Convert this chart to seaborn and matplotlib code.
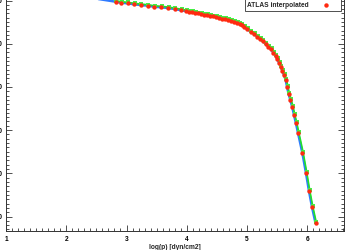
import matplotlib
matplotlib.use("Agg")
import matplotlib.pyplot as plt
from matplotlib.lines import Line2D
from matplotlib.legend_handler import HandlerLine2D
from matplotlib.ticker import MultipleLocator
import seaborn as sns
import pandas as pd

# ---- data ----
interp_logp = [2.821, 2.914, 3.020, 3.129, 3.236, 3.352, 3.461, 3.578, 3.689, 3.800,
               3.910, 3.988, 4.037, 4.087, 4.137, 4.187, 4.237, 4.286, 4.336, 4.386,
               4.436, 4.485, 4.535, 4.585, 4.635, 4.685, 4.734, 4.784, 4.834, 4.876,
               4.912, 4.955, 5.005, 5.061, 5.116, 5.171, 5.216, 5.260, 5.310, 5.353,
               5.398, 5.437, 5.476, 5.503, 5.531, 5.559, 5.586, 5.614, 5.642, 5.664,
               5.689, 5.719, 5.752, 5.780, 5.813, 5.846, 5.918, 5.979, 6.029, 6.079, 6.137]
interp_T = [4028, 4051, 4065, 4088, 4104, 4120, 4144, 4157, 4174, 4197,
            4227, 4243, 4257, 4271, 4285, 4299, 4313, 4326, 4340, 4354,
            4370, 4387, 4403, 4419, 4435, 4454, 4475, 4495, 4519, 4542,
            4567, 4620, 4667, 4722, 4775, 4838, 4891, 4944, 5007, 5069,
            5130, 5208, 5285, 5361, 5440, 5532, 5625, 5725, 5840, 5991,
            6153, 6303, 6472, 6650, 6843, 7060, 7523, 7993, 8410, 8781, 9150]

marcs_logp = [2.833, 2.926, 3.032, 3.141, 3.248, 3.364, 3.473, 3.590, 3.701, 3.812,
              3.922, 4.000, 4.049, 4.099, 4.149, 4.199, 4.249, 4.298, 4.348, 4.398,
              4.448, 4.497, 4.547, 4.597, 4.647, 4.697, 4.746, 4.796, 4.846, 4.888,
              4.924, 4.967, 5.017, 5.073, 5.128, 5.183, 5.228, 5.272, 5.322, 5.365,
              5.410, 5.449, 5.488, 5.515, 5.543, 5.571, 5.598, 5.626, 5.654, 5.676,
              5.701, 5.731, 5.764, 5.792, 5.825, 5.858, 5.930, 5.991, 6.041, 6.091, 6.149]
marcs_T = [4008, 4031, 4045, 4068, 4084, 4100, 4124, 4137, 4154, 4177,
           4207, 4223, 4237, 4251, 4265, 4279, 4293, 4306, 4320, 4334,
           4350, 4367, 4383, 4399, 4415, 4434, 4455, 4475, 4499, 4522,
           4547, 4600, 4647, 4702, 4755, 4818, 4871, 4924, 4987, 5049,
           5110, 5188, 5265, 5341, 5420, 5512, 5605, 5705, 5820, 5971,
           6133, 6283, 6452, 6630, 6823, 7040, 7503, 7973, 8390, 8761, 9130]

atlas_logp = [1.5, 2.0, 2.5] + interp_logp
atlas_T = [3750, 3854, 3958] + interp_T

x_ticks = [1, 2, 3, 4, 5, 6]
y_ticks = [4000, 5000, 6000, 7000, 8000, 9000]
x_label = "log(p) [dyn/cm2]"
legend_labels = ["ATLAS", "MARCS", "ATLAS interpolated"]

# ---- style ----
sns.set_style("ticks")
plt.rcParams["font.family"] = ["Liberation Sans", "DejaVu Sans"]
plt.rcParams["font.weight"] = "bold"

BLUE = "#2f7bff"
GREEN = "#22e02a"
GREENM = "#44ee44"
RED = "#ff2a10"
AX = "#333333"
FS = 4.8

W, H = 346, 250
fig = plt.figure(figsize=(W / 100, H / 100), dpi=100)
# axes deliberately extends beyond the canvas (left labels and top are cropped)
left_px, right_px, bottom_px, top_px = 6, 344, 231, -30
ax = fig.add_axes([left_px / W, (H - bottom_px) / H,
                   (right_px - left_px) / W, (bottom_px - top_px) / H])

df_atlas = pd.DataFrame({"logp": atlas_logp, "T": atlas_T})
df_marcs = pd.DataFrame({"logp": marcs_logp, "T": marcs_T})
df_int = pd.DataFrame({"logp": interp_logp, "T": interp_T})

sns.lineplot(data=df_atlas, x="logp", y="T", ax=ax, color=BLUE, lw=1.8,
             sort=False, estimator=None, zorder=2)
sns.lineplot(data=df_marcs, x="logp", y="T", ax=ax, color=GREEN, lw=1.2,
             sort=False, estimator=None, marker="s", markersize=2.8,
             markerfacecolor=GREENM, markeredgewidth=0, zorder=3)
sns.scatterplot(data=df_int, x="logp", y="T", ax=ax, color=RED, s=10,
                linewidth=0, zorder=4)

ax.set_xlim(1, 1 + (right_px - left_px) / 60.25)
ax.set_ylim(4000 + (bottom_px - 0.5) / 43.2 * 1000, 4000 + (top_px - 0.5) / 43.2 * 1000)

ax.set_xticks(x_ticks)
ax.set_yticks(y_ticks)
ax.xaxis.set_minor_locator(MultipleLocator(0.1))
ax.yaxis.set_minor_locator(MultipleLocator(100))
ax.tick_params(which="both", direction="in", top=True, right=True, colors=AX,
               labelsize=FS, width=0.6)
ax.tick_params(which="major", length=4.5)
ax.tick_params(which="minor", length=2.2)
ax.tick_params(axis="x", which="major", pad=3.5)
ax.tick_params(axis="y", which="major", pad=2.5)
for lab in ax.get_xticklabels() + ax.get_yticklabels():
    lab.set_color("black")
    lab.set_fontweight("bold")
for s in ax.spines.values():
    s.set_color(AX)
    s.set_linewidth(0.7)

ax.set_xlabel(x_label, fontsize=FS, fontweight="bold", labelpad=1)
ax.set_ylabel("")

h_atlas = Line2D([], [], color=BLUE, lw=1.2)
h_marcs = Line2D([], [], color=GREEN, lw=0.8, marker="s", markersize=2.6,
                 markerfacecolor=GREENM, markeredgewidth=0)
h_int = Line2D([], [], color=RED, lw=0, marker="o", markersize=3.2, markeredgewidth=0)
leg = ax.legend([h_atlas, h_marcs, h_int], legend_labels,
                handler_map={h_marcs: HandlerLine2D(numpoints=2),
                             h_int: HandlerLine2D(numpoints=1),
                             h_atlas: HandlerLine2D(numpoints=2)},
                loc="lower right", bbox_to_anchor=(341 / W, (H - 11) / H),
                bbox_transform=fig.transFigure, markerfirst=False,
                fontsize=FS, frameon=True, fancybox=False, framealpha=1,
                edgecolor=AX, borderpad=0.3, labelspacing=0.25,
                handlelength=4.0, handletextpad=0.5, borderaxespad=0)
leg.get_frame().set_linewidth(0.6)
for t in leg.get_texts():
    t.set_fontweight("bold")

fig.savefig("out.png", dpi=100)
